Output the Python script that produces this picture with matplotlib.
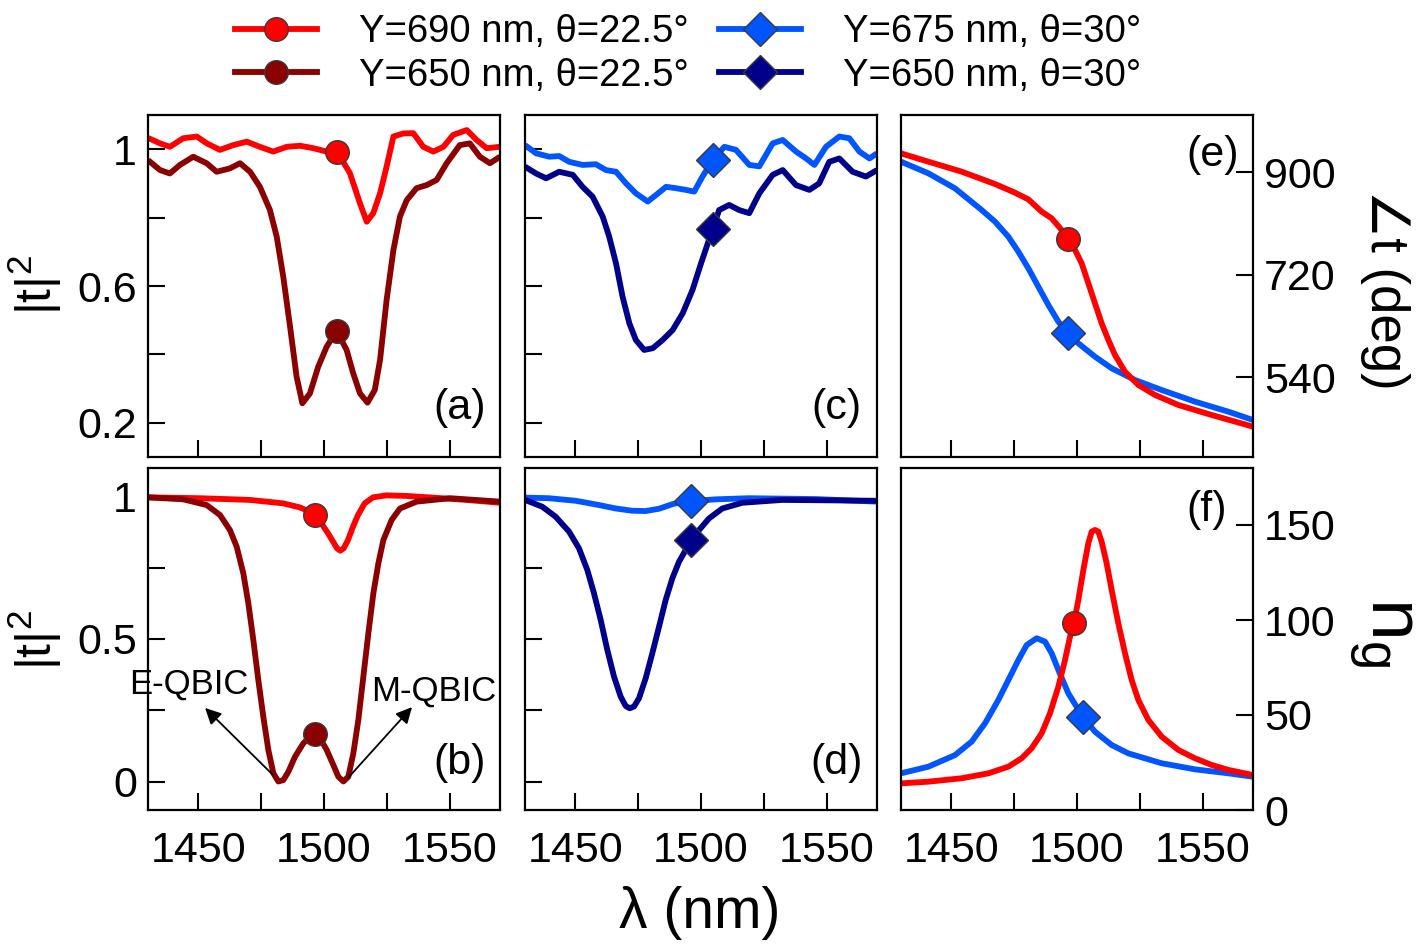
import matplotlib
matplotlib.use("Agg")
import matplotlib.pyplot as plt
from matplotlib.lines import Line2D

plt.rcParams['font.family'] = ['Liberation Sans', 'DejaVu Sans']
plt.rcParams['mathtext.fontset'] = 'custom'
plt.rcParams['mathtext.rm'] = 'Liberation Sans'
plt.rcParams['mathtext.it'] = 'Liberation Sans'

# ---------------- data ----------------
# (a) measured |t|^2, Y=690 nm, theta=22.5
a_red_x = [1430, 1434.8, 1438.7, 1444, 1449.4, 1453.4, 1458.6, 1463.9, 1469.3, 1474.5, 1479.8,
           1485.2, 1490.5, 1495.7, 1501.1, 1506.4, 1510.3, 1514.3, 1517, 1519.6, 1522.3, 1524.9,
           1527.6, 1531.5, 1535.5, 1539.5, 1543.5, 1547.5, 1551.4, 1556.8, 1560.7, 1564.7, 1570]
a_red_y = [1.033, 1.017, 1.007, 1.032, 1.037, 1.017, 0.998, 1.012, 1.022, 1.007, 0.993,
           1.007, 1.010, 1.003, 0.993, 0.978, 0.930, 0.842, 0.788, 0.813, 0.871, 0.949,
           1.037, 1.046, 1.047, 1.007, 0.993, 1.007, 1.042, 1.056, 1.027, 1.003, 1.007]
# (a) measured |t|^2, Y=650 nm, theta=22.5
a_dred_x = [1430, 1434.8, 1438.7, 1442.7, 1448, 1453.3, 1457.3, 1462.6, 1466.6, 1470.6, 1474.5,
            1478.5, 1481.2, 1483.8, 1486.5, 1489.1, 1491.4, 1494.4, 1497.7, 1501.1, 1505, 1509,
            1511.6, 1514.3, 1517.3, 1520.2, 1522.3, 1524.9, 1527.6, 1530.2, 1532.9, 1536.8,
            1540.8, 1544.8, 1548.8, 1554, 1558, 1562, 1566, 1570]
a_dred_y = [0.968, 0.939, 0.929, 0.954, 0.978, 0.959, 0.934, 0.944, 0.959, 0.934, 0.890,
            0.822, 0.744, 0.627, 0.481, 0.335, 0.257, 0.286, 0.364, 0.423, 0.469, 0.413,
            0.345, 0.286, 0.259, 0.296, 0.384, 0.559, 0.705, 0.803, 0.851, 0.886,
            0.895, 0.910, 0.959, 1.012, 1.017, 0.978, 0.959, 0.978]
a_marker_x = 1505
a_red_marker_y = 0.993
a_dred_marker_y = 0.469

# (c) measured |t|^2, Y=675 nm, theta=30
c_blue_x = [1430, 1434.4, 1439.7, 1443.6, 1447.6, 1452.9, 1458.2, 1462.2, 1466.2, 1470.2, 1474.1,
            1478.8, 1482.1, 1486.1, 1490, 1494, 1497.3, 1500.6, 1504.6, 1509.3, 1513.9, 1519.2,
            1523.2, 1528.5, 1532.5, 1537.8, 1541.8, 1545.1, 1549.7, 1555, 1559, 1563, 1567, 1570]
c_blue_y = [1.012, 0.988, 0.978, 0.980, 0.963, 0.954, 0.956, 0.939, 0.934, 0.900, 0.871,
            0.847, 0.866, 0.890, 0.886, 0.881, 0.876, 0.920, 0.968, 1.007, 0.998, 0.954,
            0.950, 1.017, 1.027, 0.993, 0.973, 0.954, 1.007, 1.037, 1.032, 0.993, 0.973, 0.988]
# (c) measured |t|^2, Y=650 nm, theta=30
c_navy_x = [1430, 1434.4, 1438.4, 1443.6, 1449, 1452.9, 1456.9, 1460.9, 1463.5, 1466.2, 1468.8,
            1471.5, 1474.1, 1477.4, 1480.8, 1484.7, 1488.7, 1492.7, 1496.6, 1500, 1504.6, 1507.2,
            1511.2, 1515.2, 1519.2, 1523.2, 1528.5, 1532.5, 1537.8, 1543.1, 1547, 1551, 1555,
            1560.3, 1565.6, 1570]
c_navy_y = [0.949, 0.929, 0.915, 0.934, 0.925, 0.890, 0.861, 0.803, 0.744, 0.666, 0.569,
            0.491, 0.442, 0.413, 0.418, 0.442, 0.471, 0.520, 0.588, 0.666, 0.766, 0.822,
            0.837, 0.822, 0.813, 0.871, 0.925, 0.939, 0.895, 0.881, 0.900, 0.963, 0.973,
            0.934, 0.920, 0.939]
c_marker_x = 1504.6
c_blue_marker_y = 0.968
c_navy_marker_y = 0.766

# (b) simulated |t|^2, Y=690 nm, theta=22.5
b_red_x = [1430, 1450.55, 1470.43, 1483.70, 1490.32, 1494.30, 1496.29, 1498.94, 1501.59,
           1503.58, 1505.17, 1506.50, 1507.82, 1509.54, 1511.53, 1513.52, 1516.18, 1519.49,
           1524.79, 1532.75, 1543.36, 1556.61, 1570]
b_red_y = [0.997, 0.994, 0.988, 0.976, 0.962, 0.947, 0.935, 0.906, 0.871,
           0.842, 0.818, 0.810, 0.818, 0.847, 0.894, 0.935, 0.976, 0.997,
           1.004, 1.002, 0.996, 0.988, 0.978]
# (b) simulated |t|^2, Y=650 nm, theta=22.5
b_dred_x = [1430, 1444.05, 1453.33, 1458.64, 1462.61, 1465.27, 1467.92, 1469.91, 1471.90,
            1473.88, 1475.87, 1477.86, 1479.85, 1481.84, 1483.83, 1485.82, 1488.47, 1491.78,
            1494.43, 1496.42, 1498.41, 1501.06, 1503.71, 1505.70, 1507.69, 1509.68, 1511.67,
            1513.66, 1515.65, 1517.64, 1519.63, 1521.61, 1523.60, 1526.91, 1530.23, 1536.86,
            1550.12, 1570]
b_dred_y = [0.997, 0.990, 0.970, 0.935, 0.882, 0.824, 0.730, 0.625, 0.496,
            0.356, 0.227, 0.111, 0.029, 0.000, 0.005, 0.034, 0.087, 0.134,
            0.157, 0.166, 0.151, 0.111, 0.058, 0.017, 0.000, 0.017, 0.099,
            0.216, 0.368, 0.520, 0.660, 0.765, 0.847, 0.918, 0.958, 0.982,
            0.994, 0.982]
b_marker_x = 1496.4
b_red_marker_y = 0.935
b_dred_marker_y = 0.166

# (d) simulated |t|^2, Y=675 nm, theta=30
d_blue_x = [1430, 1439.55, 1450.15, 1459.43, 1466.06, 1472.69, 1477.99, 1483.30, 1488.60,
            1492.58, 1496.29, 1505.83, 1519.09, 1545.61, 1570]
d_blue_y = [0.996, 0.994, 0.985, 0.970, 0.958, 0.950, 0.949, 0.957, 0.973,
            0.981, 0.984, 0.990, 0.994, 0.991, 0.982]
# (d) simulated |t|^2, Y=650 nm, theta=30
d_navy_x = [1430, 1436.89, 1442.20, 1447.50, 1451.48, 1454.79, 1457.45, 1460.10, 1462.75,
            1465.40, 1468.05, 1470.04, 1471.63, 1473.36, 1475.34, 1477.99, 1480.64, 1483.30,
            1485.95, 1488.60, 1491.25, 1493.90, 1496.29, 1499.21, 1503.18, 1508.49, 1516.44,
            1532.35, 1570]
d_navy_y = [0.988, 0.964, 0.929, 0.877, 0.818, 0.742, 0.660, 0.567, 0.461,
            0.368, 0.298, 0.265, 0.257, 0.263, 0.292, 0.362, 0.450, 0.543,
            0.637, 0.713, 0.771, 0.812, 0.847, 0.882, 0.923, 0.958, 0.978,
            0.988, 0.985]
d_marker_x = 1496.2
d_blue_marker_y = 0.984
d_navy_marker_y = 0.847

# (e) transmission phase (deg)
e_red_x = [1430, 1440.87, 1454.13, 1467.39, 1475.34, 1480.65, 1485.95, 1489.93, 1493.90,
           1496.29, 1499.21, 1501.86, 1504.51, 1507.16, 1509.81, 1512.47, 1515.12, 1519.09,
           1524.40, 1531.03, 1540.31, 1553.56, 1570]
e_red_y = [932.7, 918.1, 900.6, 878.9, 863.7, 852.0, 830.4, 818.7, 798.2,
           781.9, 763.2, 739.8, 704.7, 669.6, 634.5, 605.3, 578.9, 549.7,
           526.3, 508.8, 491.2, 473.7, 453.2]
e_blue_x = [1430, 1440.87, 1451.48, 1462.08, 1467.39, 1472.69, 1476.67, 1480.65, 1484.63,
            1488.61, 1492.58, 1496.29, 1500.53, 1507.16, 1513.79, 1523.07, 1533.68, 1546.94,
            1560.19, 1570]
e_blue_y = [918.1, 897.7, 871.3, 833.3, 812.9, 786.5, 760.2, 731.0, 698.8,
            666.7, 637.4, 618.1, 599.4, 576.0, 555.6, 535.1, 517.5, 497.1,
            479.5, 464.9]
e_red_marker = (1496.3, 781.9)
e_blue_marker = (1496.3, 618.1)

# (f) group index n_g
f_red_x = [1430, 1440.87, 1454.13, 1464.74, 1472.69, 1477.99, 1481.97, 1485.95, 1489.26,
           1492.58, 1495.23, 1497.22, 1498.81, 1500.53, 1502.52, 1504.51, 1505.84, 1507.16,
           1508.49, 1509.81, 1511.80, 1513.79, 1516.44, 1519.09, 1521.75, 1524.40, 1528.37,
           1533.68, 1540.31, 1546.94, 1553.56, 1560.19, 1570]
f_red_y = [14.0, 14.9, 16.7, 19.3, 22.8, 27.2, 32.5, 40.4, 50.9,
           64.9, 78.9, 91.2, 98.6, 110.5, 126.3, 140.4, 146.5, 147.4,
           146.5, 141.2, 129.8, 115.8, 98.2, 82.5, 68.4, 57.9, 47.4,
           38.6, 31.6, 27.2, 23.7, 21.1, 18.4]
f_blue_x = [1430, 1440.87, 1451.48, 1458.11, 1463.41, 1468.71, 1472.69, 1476.67, 1479.98,
            1483.96, 1487.27, 1489.92, 1492.58, 1496.55, 1502.26, 1507.16, 1513.79, 1520.42,
            1533.68, 1546.94, 1560.19, 1570]
f_blue_y = [19.3, 22.8, 28.9, 36.0, 45.6, 57.9, 68.4, 78.9, 86.8,
            90.4, 88.6, 82.5, 73.7, 61.4, 49.1, 41.2, 34.2, 29.8,
            24.6, 21.4, 19.3, 17.5]
f_red_marker = (1498.8, 98.6)
f_blue_marker = (1502.3, 49.1)

legend_labels = ['Y=690 nm, θ=22.5°', 'Y=650 nm, θ=22.5°', 'Y=675 nm, θ=30°', 'Y=650 nm, θ=30°']
x_ticks = [1450, 1475, 1500, 1525, 1550]
x_ticklabels = ['1450', '', '1500', '', '1550']

# ---------------- style ----------------
RED = '#ff0000'
DRED = '#8b0000'
BLUE = '#0055ff'
NAVY = '#00008b'
MEC = '#3a3a3a'
LW = 4.2
MS_O = 17
MS_D = 17
TICK_FS = 31

W, H = 1417, 944
fig = plt.figure(figsize=(W / 100, H / 100), dpi=100)

cols = [148, 525, 901]
rows = [115, 468]
pw, ph = 352, 342


def make_ax(c, r):
    return fig.add_axes([cols[c] / W, 1 - (rows[r] + ph) / H, pw / W, ph / H])


def style(ax, left=True, right=False, xlabels=False):
    for s in ax.spines.values():
        s.set_linewidth(1.6)
    ax.set_xlim(1430, 1570)
    ax.set_xticks(x_ticks)
    ax.set_xticklabels(x_ticklabels if xlabels else [''] * len(x_ticks))
    ax.tick_params(axis='both', direction='in', length=12, width=1.5,
                   labelsize=TICK_FS, top=False, left=left, right=right,
                   labelleft=left, labelright=right, pad=8)
    ax.tick_params(axis='x', pad=15)


def mark(ax, x, y, color, m, ms):
    ax.plot([x], [y], linestyle='none', marker=m, markersize=ms, markerfacecolor=color,
            markeredgecolor=MEC, markeredgewidth=1.0, zorder=5)


def line(ax, x, y, color):
    ax.plot(x, y, color=color, lw=LW, solid_joinstyle='round', solid_capstyle='butt')


# (a)
ax = make_ax(0, 0)
line(ax, a_red_x, a_red_y, RED)
line(ax, a_dred_x, a_dred_y, DRED)
mark(ax, a_marker_x, a_red_marker_y, RED, 'o', MS_O)
mark(ax, a_marker_x, a_dred_marker_y, DRED, 'o', MS_O)
ax.set_ylim(0.1, 1.1)
ax.set_yticks([0.2, 0.4, 0.6, 0.8, 1.0])
ax.set_yticklabels(['0.2', '', '0.6', '', '1'])
style(ax)
ax.text(0.886, 0.143, '(a)', transform=ax.transAxes, fontsize=TICK_FS, ha='center', va='center')

# (c)
ax = make_ax(1, 0)
line(ax, c_blue_x, c_blue_y, BLUE)
line(ax, c_navy_x, c_navy_y, NAVY)
mark(ax, c_marker_x, c_blue_marker_y, BLUE, 'D', MS_D)
mark(ax, c_marker_x, c_navy_marker_y, NAVY, 'D', MS_D)
ax.set_ylim(0.1, 1.1)
ax.set_yticks([0.2, 0.4, 0.6, 0.8, 1.0])
ax.set_yticklabels([''] * 5)
style(ax)
ax.text(0.886, 0.143, '(c)', transform=ax.transAxes, fontsize=TICK_FS, ha='center', va='center')

# (e)
ax = make_ax(2, 0)
line(ax, e_blue_x, e_blue_y, BLUE)
line(ax, e_red_x, e_red_y, RED)
mark(ax, *e_red_marker, RED, 'o', MS_O)
mark(ax, *e_blue_marker, BLUE, 'D', MS_D)
ax.set_ylim(400, 1000)
ax.set_yticks([540, 720, 900])
style(ax, left=False, right=True)
ax.tick_params(axis='y', pad=8)
ax.text(0.886, 0.883, '(e)', transform=ax.transAxes, fontsize=TICK_FS, ha='center', va='center')

# (b)
ax = make_ax(0, 1)
line(ax, b_red_x, b_red_y, RED)
line(ax, b_dred_x, b_dred_y, DRED)
mark(ax, b_marker_x, b_red_marker_y, RED, 'o', MS_O)
mark(ax, b_marker_x, b_dred_marker_y, DRED, 'o', MS_O)
ax.set_ylim(-0.1, 1.1)
ax.set_yticks([0, 0.25, 0.5, 0.75, 1.0])
ax.set_yticklabels(['0', '', '0.5', '', '1'])
style(ax, xlabels=True)
ax.text(0.886, 0.137, '(b)', transform=ax.transAxes, fontsize=TICK_FS, ha='center', va='center')
arrow = dict(arrowstyle='-|>', color='black', lw=1.3, mutation_scale=24, shrinkA=0, shrinkB=0)
ax.annotate('', xy=(1452.7, 0.258), xytext=(1479.7, 0.023), arrowprops=arrow)
ax.annotate('', xy=(1535.0, 0.261), xytext=(1509.5, 0.012), arrowprops=arrow)
ax.text(1446.3, 0.342, 'E-QBIC', fontsize=25, ha='center', va='center')
ax.text(1543.7, 0.318, 'M-QBIC', fontsize=25, ha='center', va='center')

# (d)
ax = make_ax(1, 1)
line(ax, d_blue_x, d_blue_y, BLUE)
line(ax, d_navy_x, d_navy_y, NAVY)
mark(ax, d_marker_x, d_blue_marker_y, BLUE, 'D', MS_D)
mark(ax, d_marker_x, d_navy_marker_y, NAVY, 'D', MS_D)
ax.set_ylim(-0.1, 1.1)
ax.set_yticks([0, 0.25, 0.5, 0.75, 1.0])
ax.set_yticklabels([''] * 5)
style(ax, xlabels=True)
ax.text(0.886, 0.137, '(d)', transform=ax.transAxes, fontsize=TICK_FS, ha='center', va='center')

# (f)
ax = make_ax(2, 1)
line(ax, f_blue_x, f_blue_y, BLUE)
line(ax, f_red_x, f_red_y, RED)
mark(ax, *f_red_marker, RED, 'o', MS_O)
mark(ax, *f_blue_marker, BLUE, 'D', MS_D)
ax.set_ylim(0, 180)
ax.set_yticks([0, 50, 100, 150])
style(ax, left=False, right=True, xlabels=True)
ax.tick_params(axis='y', pad=8)
ax.text(0.869, 0.877, '(f)', transform=ax.transAxes, fontsize=TICK_FS, ha='center', va='center')

# axis labels
fig.text(700 / W, 1 - 913 / H, 'λ (nm)', fontsize=41, ha='center', va='center')
fig.text(35 / W, 1 - 285 / H, r'|t|$^\mathregular{2}$', fontsize=36, rotation=90, ha='center', va='center')
fig.text(35 / W, 1 - 640 / H, r'|t|$^\mathregular{2}$', fontsize=36, rotation=90, ha='center', va='center')
fig.text(1385 / W, 1 - 290 / H, '∠t (deg)', fontsize=38, rotation=-90, ha='center', va='center')
fig.text(1380 / W, 1 - 632 / H, r'n$_\mathregular{g}$', fontsize=54, rotation=-90, ha='center', va='center')

# legend
handles = [
    Line2D([], [], color=RED, lw=LW, marker='o', ms=MS_O, mfc=RED, mec=MEC, mew=1.0),
    Line2D([], [], color=DRED, lw=LW, marker='o', ms=MS_O, mfc=DRED, mec=MEC, mew=1.0),
    Line2D([], [], color=BLUE, lw=LW, marker='D', ms=MS_D, mfc=BLUE, mec=MEC, mew=1.0),
    Line2D([], [], color=NAVY, lw=LW, marker='D', ms=MS_D, mfc=NAVY, mec=MEC, mew=1.0),
]
fig.legend(handles, legend_labels, loc='center', bbox_to_anchor=(688 / W, 1 - 54 / H),
           ncol=2, frameon=False, fontsize=27.5, handlelength=2.15, handletextpad=1.1,
           columnspacing=0.8, labelspacing=0.2, borderpad=0)

fig.savefig('out.png', dpi=100)
